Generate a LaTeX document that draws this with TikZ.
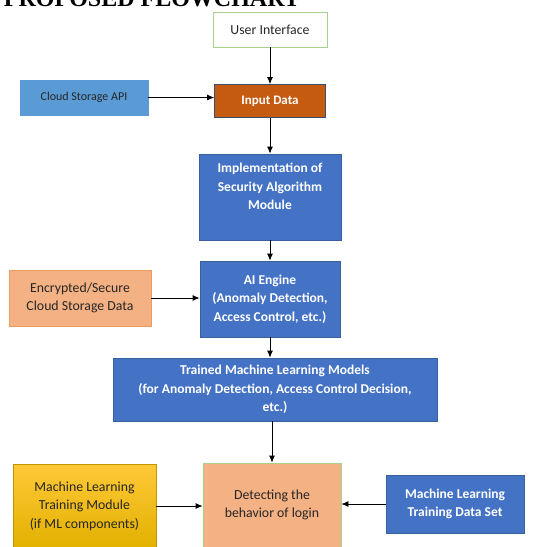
\documentclass[tikz,border=0pt]{standalone}
\usepackage{fontspec}
\setmainfont{Carlito}
\newfontfamily\titlefont{Liberation Serif}
\usetikzlibrary{arrows.meta}
\definecolor{boxblue}{HTML}{4472C4}
\definecolor{boxblueline}{HTML}{3A5F9E}
\definecolor{apiblue}{HTML}{5B9BD5}
\definecolor{inputbrown}{HTML}{C55A11}
\definecolor{inputline}{HTML}{3B4E6B}
\definecolor{peach}{HTML}{F4B183}
\definecolor{peachline}{HTML}{F09A5E}
\definecolor{lightgreen}{HTML}{A9D18E}
\definecolor{goldtop}{HTML}{FFC838}
\definecolor{goldbottom}{HTML}{E2B100}
\definecolor{darktext}{HTML}{262626}
\tikzset{>={Latex[length=7pt,width=6pt]}}
\tikzset{
  box/.style={rectangle, line width=0.8pt, align=center, inner sep=0pt,
    font=\fontsize{13.8}{18.5}\selectfont, text=darktext},
  boldtext/.style={text=white, font=\fontsize{13.5}{18.5}\selectfont\bfseries},
  bluebox/.style={box, boldtext, fill=boxblue, draw=boxblueline},
  flow/.style={->, line width=0.8pt},
}

\begin{document}
\begin{tikzpicture}[x=1pt, y=-1pt]
\useasboundingbox (0,0) rectangle (534,547);
\clip (0,0) rectangle (534,547);
% heading, cut off by the page edge
\node[anchor=base east, inner sep=0pt, font=\titlefont\fontsize{24}{24}\selectfont\bfseries] (title) at (300,6) {PROPOSED FLOWCHART};

% main column
\node[box, draw=lightgreen, fill=white, minimum width=114, minimum height=35] (ui) at (270,29.5) {User Interface};
\node[box, boldtext, draw=inputline, fill=inputbrown, font=\fontsize{13}{18.5}\selectfont\bfseries,
  minimum width=111, minimum height=33] (input) at (270,101) {Input Data};
\node[bluebox, minimum width=142, minimum height=86] (impl) at (270,197) {};
\node[box, boldtext] (impltext) at (270,186.5)
  {Implementation of\\Security Algorithm\\Module};
\node[bluebox, minimum width=140, minimum height=76] (ai) at (270,299)
  {AI Engine\\(Anomaly Detection,\\Access Control, etc.)};
\node[bluebox, minimum width=324, minimum height=63] (models) at (275,389.5)
  {Trained Machine Learning Models\\(for Anomaly Detection, Access Control Decision,\\etc.)};
\node[box, draw=lightgreen, fill=peach, minimum width=138, minimum height=84] (detect) at (272,505)
  {Detecting the\\behavior of login};

% side inputs
\node[box, draw=apiblue, fill=apiblue, font=\fontsize{12}{18.5}\selectfont,
  minimum width=128, minimum height=35] (api) at (84,97.5) {Cloud Storage API};
\node[box, draw=peachline, fill=peach, minimum width=142, minimum height=56] (encrypted) at (80,298)
  {Encrypted/Secure\\Cloud Storage Data};
\node[box, draw=goldbottom!85!black, top color=goldtop, bottom color=goldbottom,
  minimum width=143, minimum height=84] (trainmod) at (84.5,506)
  {Machine Learning\\Training Module\\(if ML components)};
\node[bluebox, minimum width=138, minimum height=58] (dataset) at (455,504)
  {Machine Learning\\Training Data Set};

% connectors
\draw[flow] (ui) -- (input);
\draw[flow] (api.east) -- (api -| input.west);
\draw[flow] (input) -- (impl);
\draw[flow] (impl) -- (ai);
\draw[flow] (encrypted.east) -- (encrypted -| ai.west);
\draw[flow] (ai) -- (ai |- models.north);
\draw[flow] (models.south -| detect) -- (detect);
\draw[flow] (trainmod.east) -- (trainmod -| detect.west);
\draw[flow] (dataset.west) -- (dataset -| detect.east);
\end{tikzpicture}
\end{document}
